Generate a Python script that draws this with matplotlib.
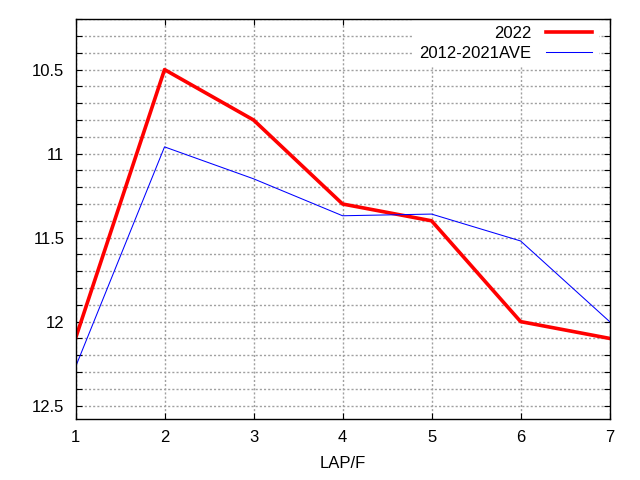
import matplotlib
matplotlib.use('Agg')
import matplotlib.pyplot as plt
from matplotlib.ticker import MultipleLocator

plt.rcParams['font.family'] = ['Liberation Sans', 'DejaVu Sans']

# data
laps = [1, 2, 3, 4, 5, 6, 7]
y2022 = [12.10, 10.50, 10.80, 11.30, 11.40, 12.00, 12.10]
ave = [12.27, 10.96, 11.15, 11.37, 11.36, 11.52, 12.00]
yticks = [10.5, 11, 11.5, 12, 12.5]

fig = plt.figure(figsize=(6.4, 4.8), dpi=100)
ax = fig.add_axes([0.118, 0.127, 0.8345, 0.833])

ax.plot(laps, y2022, color='red', lw=2.6, label='2022', zorder=3)
ax.plot(laps, ave, color='blue', lw=0.75, label='2012-2021AVE', zorder=3)

ax.set_xlim(1, 7)
ax.set_ylim(12.58, 10.2)
ax.set_xticks(laps)
ax.set_yticks(yticks)
ax.set_yticklabels(['10.5', '11', '11.5', '12', '12.5'])
ax.yaxis.set_minor_locator(MultipleLocator(0.1))

ax.grid(True, which='both', axis='y', color='#a0a0a0', linestyle=(0, (1.5, 1.5)), lw=1.0)
ax.grid(True, which='major', axis='x', color='#a0a0a0', linestyle=(0, (1.5, 1.5)), lw=1.0)

ax.tick_params(which='both', direction='in', top=True, right=True, labelsize=12, length=4.5, width=0.8, pad=8)
ax.tick_params(axis='x', which='minor', bottom=False, top=False)
for s in ax.spines.values():
    s.set_linewidth(1.0)
    s.set_zorder(6)

ax.set_xlabel('LAP/F', fontsize=12, labelpad=8)

leg = ax.legend(loc='upper right', bbox_to_anchor=(0.98, 1.0), markerfirst=False, fontsize=12,
                frameon=True, fancybox=False, edgecolor='none', facecolor='white', framealpha=1,
                handlelength=2.8, handletextpad=0.84, borderaxespad=0, labelspacing=0.28,
                borderpad=0.4)
for t in leg.get_texts():
    t.set_ha('right')
leg.set_zorder(5)

fig.savefig('out.png', dpi=100)
